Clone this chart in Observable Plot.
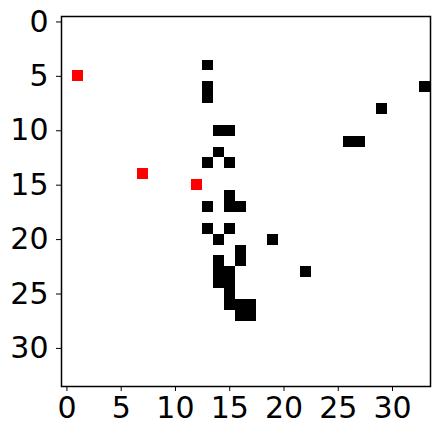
<!DOCTYPE html>
<html><head><meta charset="utf-8">
<script src="https://cdn.jsdelivr.net/npm/d3@7"></script>
<script src="https://cdn.jsdelivr.net/npm/@observablehq/plot@0.6"></script>
<style>body{margin:0;background:#fff}</style>
</head><body><div id="chart"></div>
<script>
const blackCols = [13,13,13,14,15,14,13,15,15,13,15,16,13,15,14,19,16,16,14,22,14,15,14,15,15,15,16,17,16,17,29,26,27,33];
const blackRows = [4,6,7,10,10,12,13,13,16,17,17,17,19,19,20,20,21,22,22,23,23,23,24,24,25,26,26,26,27,27,8,11,11,6];
const redCols = [1,7,12];
const redRows = [5,14,15];
const xTicks = [0,5,10,15,20,25,30];
const yTicks = [0,5,10,15,20,25,30];

const black = blackCols.map((c,i)=>({col:c,row:blackRows[i]}));
const red = redCols.map((c,i)=>({col:c,row:redRows[i]}));
const cellOpts = fill => ({
  x1:d=>d.col-0.5, x2:d=>d.col+0.5, y1:d=>d.row-0.5, y2:d=>d.row+0.5,
  fill, shapeRendering:"crispEdges"
});

const chart = Plot.plot({
  width:440, height:436,
  marginLeft:61, marginTop:16, marginRight:10, marginBottom:50,
  style:{fontFamily:"DejaVu Sans", fontSize:"30px", background:"white", color:"black", overflow:"visible"},
  x:{domain:[-0.5,33.5], ticks:xTicks, tickSize:5, tickPadding:5, label:null},
  y:{domain:[-0.5,33.5], reverse:true, ticks:yTicks, tickSize:5, tickPadding:8, label:null},
  marks:[
    Plot.rect(black, cellOpts("black")),
    Plot.rect(red, cellOpts("red")),
    Plot.frame({stroke:"black", strokeWidth:1.5})
  ]
});
document.getElementById("chart").appendChild(chart);
</script>
</body></html>
